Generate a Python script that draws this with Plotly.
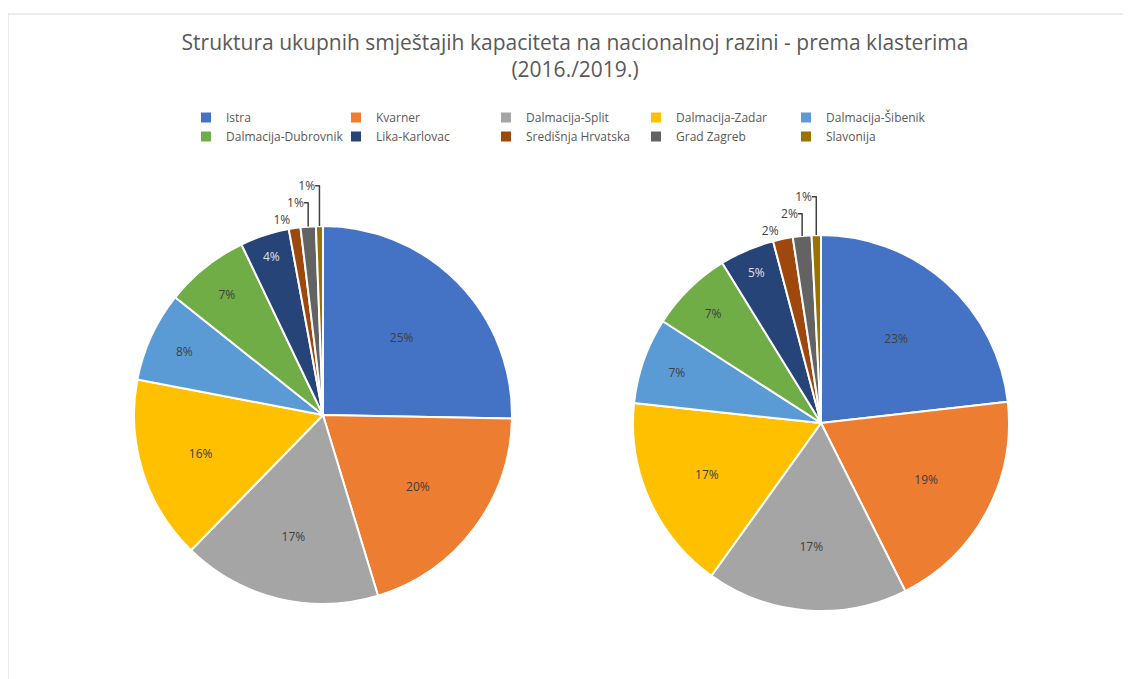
import plotly.graph_objects as go

categories = ["Istra", "Kvarner", "Dalmacija-Split", "Dalmacija-Zadar", "Dalmacija-Šibenik",
              "Dalmacija-Dubrovnik", "Lika-Karlovac", "Središnja Hrvatska", "Grad Zagreb", "Slavonija"]
values_2016 = [25.3, 20.0, 17.0, 15.7, 7.7, 7.2, 4.2, 1.0, 1.3, 0.6]
values_2019 = [23.2, 19.4, 17.3, 16.8, 7.4, 7.1, 4.7, 1.7, 1.6, 0.8]
colors = ["#4472C4", "#ED7D31", "#A5A5A5", "#FFC000", "#5B9BD5",
          "#70AD47", "#264478", "#9E480E", "#636363", "#997300"]
title = "Struktura ukupnih smještajih kapaciteta na nacionalnoj razini - prema klasterima<br>(2016./2019.)"

# page body has an 8px margin; figure coordinates are screen coordinates minus 8
OFF = 8
W, H = 1123, 671
ML, MR = 121, 122          # plot area width 880 -> legend wraps after 5 entries
PW = W - ML - MR
FONT = "Open Sans"
textpos = ["inside"] * 7 + ["outside"] * 3
text_colors = ["#404040"] * 6 + ["#E0E0E8"] + ["#404040"] * 3

def px(x):
    return (x - OFF - ML) / PW

def py(y):
    return 1 - (y - OFF) / H

def pie(vals, x0, x1, y0, y1):
    return go.Pie(
        labels=categories, values=vals, sort=False, direction="clockwise", rotation=0,
        marker=dict(colors=colors, line=dict(color="white", width=2)),
        texttemplate="%{percent:.0%}", textposition=textpos,
        insidetextorientation="horizontal",
        insidetextfont=dict(color=text_colors, size=12, family=FONT),
        outsidetextfont=dict(color="#404040", size=12, family=FONT),
        domain=dict(x=[max(0, px(x0)), min(1, px(x1))], y=[py(y1), py(y0)]),
        hoverinfo="label+percent",
    )

fig = go.Figure()
fig.add_trace(pie(values_2016, 134, 512, 226, 604))
fig.add_trace(pie(values_2019, 633, 1009, 235, 611))

fig.update_layout(
    width=W, height=H,
    margin=dict(l=ML, r=MR, t=0, b=0),
    paper_bgcolor="white", plot_bgcolor="white",
    title=dict(text=title, x=(575 - OFF) / W, xanchor="center", y=1 - 42 / H, yanchor="top",
               font=dict(family=FONT, size=21, color="#595959")),
    legend=dict(orientation="h", x=px(561), xanchor="center", y=1 - 95 / H, yanchor="top",
                entrywidth=105, entrywidthmode="pixels",
                font=dict(family=FONT, size=12, color="#595959"), itemwidth=30),
    shapes=[dict(type="rect", xref="paper", yref="paper", x0=px(8), x1=px(1140), y0=-0.01, y1=py(14),
                 line=dict(color="#d9d9d9", width=1), fillcolor="rgba(0,0,0,0)", layer="below")],
)

fig.write_html("out.html")
